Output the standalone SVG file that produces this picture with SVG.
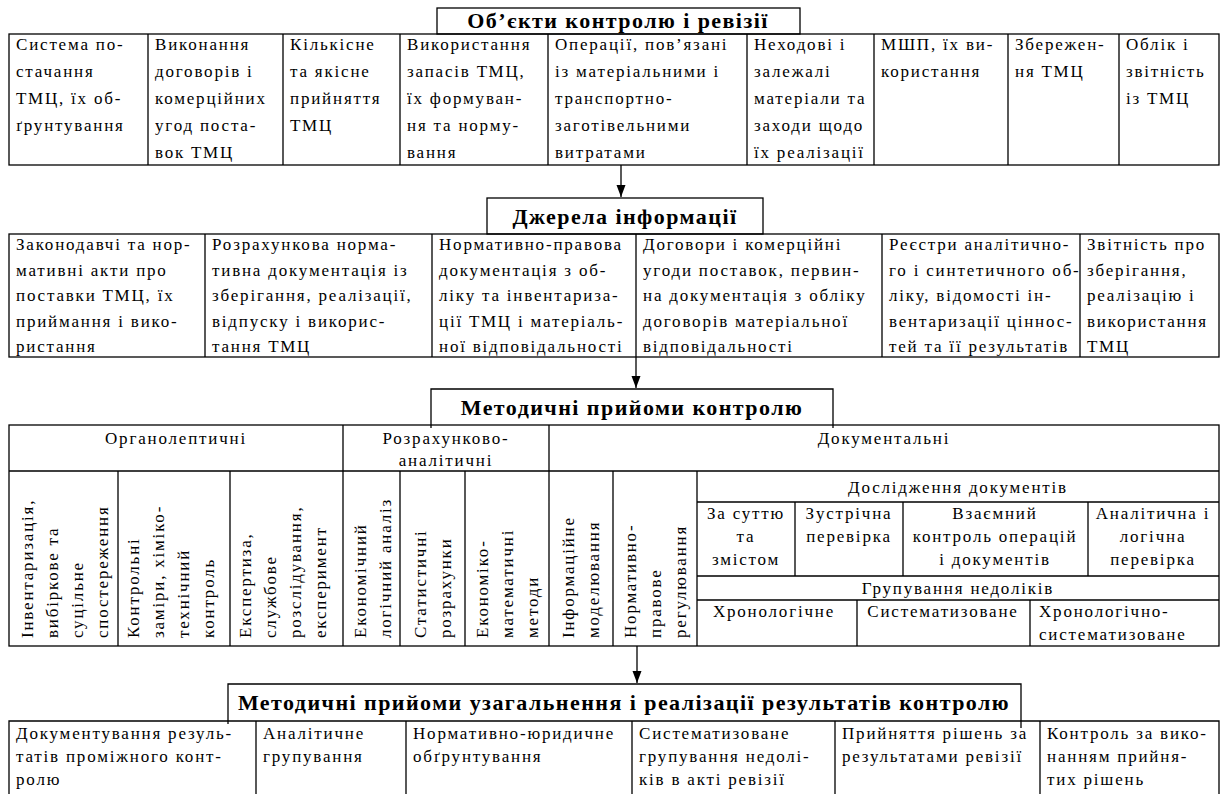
<svg xmlns="http://www.w3.org/2000/svg" width="1228" height="794" viewBox="0 0 1228 794">
<defs>
<style>
.t{font-family:"Liberation Serif","Times New Roman",serif;font-size:17px;letter-spacing:1.8px;fill:#000}
.h{font-family:"Liberation Serif","Times New Roman",serif;font-size:22px;font-weight:bold;letter-spacing:1.45px;fill:#000;text-anchor:middle}
.c{text-anchor:middle}
.b{fill:none;stroke:#000;stroke-width:1.3}
.l{stroke:#000;stroke-width:1.3;fill:none}
</style>
<marker id="ah" markerUnits="userSpaceOnUse" markerWidth="13" markerHeight="10" refX="12" refY="4.5" orient="auto" viewBox="0 0 13 9">
<path d="M0,0 L12,4.5 L0,9 Z" fill="#000"/>
</marker>
</defs>
<rect width="1228" height="794" fill="#fff"/>

<!-- Section 1 -->
<g id="objects-title">
<rect class="b" x="437" y="8" width="363" height="26"/>
<text class="h" x="618" y="28">Об’єкти контролю і ревізії</text>
</g>
<g id="objects-table">
<rect class="b" x="9" y="34" width="1210" height="131"/>
<path class="l" d="M148,34V165M283,34V165M400,34V165M548,34V165M747,34V165M874,34V165M1008,34V165M1119,34V165"/>
<text class="t" y="50"><tspan x="16">Система по-</tspan><tspan x="16" dy="27">стачання</tspan><tspan x="16" dy="27">ТМЦ, їх об-</tspan><tspan x="16" dy="27">ґрунтування</tspan></text>
<text class="t" y="50"><tspan x="155">Виконання</tspan><tspan x="155" dy="27">договорів і</tspan><tspan x="155" dy="27">комерційних</tspan><tspan x="155" dy="27">угод поста-</tspan><tspan x="155" dy="27">вок ТМЦ</tspan></text>
<text class="t" y="50"><tspan x="290">Кількісне</tspan><tspan x="290" dy="27">та якісне</tspan><tspan x="290" dy="27">прийняття</tspan><tspan x="290" dy="27">ТМЦ</tspan></text>
<text class="t" y="50"><tspan x="407">Використання</tspan><tspan x="407" dy="27">запасів ТМЦ,</tspan><tspan x="407" dy="27">їх формуван-</tspan><tspan x="407" dy="27">ня та норму-</tspan><tspan x="407" dy="27">вання</tspan></text>
<text class="t" y="50"><tspan x="555">Операції, пов’язані</tspan><tspan x="555" dy="27">із матеріальними і</tspan><tspan x="555" dy="27">транспортно-</tspan><tspan x="555" dy="27">заготівельними</tspan><tspan x="555" dy="27">витратами</tspan></text>
<text class="t" y="50"><tspan x="754">Неходові і</tspan><tspan x="754" dy="27">залежалі</tspan><tspan x="754" dy="27">матеріали та</tspan><tspan x="754" dy="27">заходи щодо</tspan><tspan x="754" dy="27">їх реалізації</tspan></text>
<text class="t" y="50"><tspan x="881">МШП, їх ви-</tspan><tspan x="881" dy="27">користання</tspan></text>
<text class="t" y="50"><tspan x="1015">Збережен-</tspan><tspan x="1015" dy="27">ня ТМЦ</tspan></text>
<text class="t" y="50"><tspan x="1126">Облік і</tspan><tspan x="1126" dy="27">звітність</tspan><tspan x="1126" dy="27">із ТМЦ</tspan></text>
</g>

<!-- Section 2 -->
<g id="sources-title">
<rect class="b" x="487" y="198" width="276" height="36"/>
<text class="h" x="625" y="224">Джерела інформації</text>
</g>
<g id="sources-table">
<rect class="b" x="9" y="234" width="1210" height="123"/>
<path class="l" d="M205,234V357M432,234V357M636,234V357M882,234V357M1080,234V357"/>
<text class="t" y="250"><tspan x="16">Законодавчі та нор-</tspan><tspan x="16" dy="25.5">мативні акти про</tspan><tspan x="16" dy="25.5">поставки ТМЦ, їх</tspan><tspan x="16" dy="25.5">приймання і вико-</tspan><tspan x="16" dy="25.5">ристання</tspan></text>
<text class="t" y="250"><tspan x="212">Розрахункова норма-</tspan><tspan x="212" dy="25.5">тивна документація із</tspan><tspan x="212" dy="25.5">зберігання, реалізації,</tspan><tspan x="212" dy="25.5">відпуску і викорис-</tspan><tspan x="212" dy="25.5">тання ТМЦ</tspan></text>
<text class="t" y="250"><tspan x="439">Нормативно-правова</tspan><tspan x="439" dy="25.5">документація з об-</tspan><tspan x="439" dy="25.5">ліку та інвентариза-</tspan><tspan x="439" dy="25.5">ції ТМЦ і матеріаль-</tspan><tspan x="439" dy="25.5">ної відповідальності</tspan></text>
<text class="t" y="250"><tspan x="643">Договори і комерційні</tspan><tspan x="643" dy="25.5">угоди поставок, первин-</tspan><tspan x="643" dy="25.5">на документація з обліку</tspan><tspan x="643" dy="25.5">договорів матеріальної</tspan><tspan x="643" dy="25.5">відповідальності</tspan></text>
<text class="t" y="250"><tspan x="889">Реєстри аналітично-</tspan><tspan x="889" dy="25.5">го і синтетичного об-</tspan><tspan x="889" dy="25.5">ліку, відомості ін-</tspan><tspan x="889" dy="25.5">вентаризації ціннос-</tspan><tspan x="889" dy="25.5">тей та її результатів</tspan></text>
<text class="t" y="250"><tspan x="1087">Звітність про</tspan><tspan x="1087" dy="25.5">зберігання,</tspan><tspan x="1087" dy="25.5">реалізацію і</tspan><tspan x="1087" dy="25.5">використання</tspan><tspan x="1087" dy="25.5">ТМЦ</tspan></text>
</g>

<!-- Section 3 -->
<g id="methods-title">
<path class="l" d="M431,428V389H833V428"/>
<text class="h" x="632" y="415">Методичні прийоми контролю</text>
</g>
<g id="methods-table">
<rect class="b" x="9" y="425" width="1210" height="221"/>
<path class="l" d="M9,471H1219M343,425V646M549,425V646M118,471V646M230,471V646M400,471V646M465,471V646M613,471V646M697,471V646M697,502H1219M795,502V576M903,502V576M1088,502V576M697,576H1219M697,600H1219M857,600V646M1030,600V646"/>
<text class="t c" x="176" y="444">Органолептичні</text>
<text class="t c" y="444"><tspan x="446">Розрахунково-</tspan><tspan x="446" dy="22">аналітичні</tspan></text>
<text class="t c" x="884" y="444">Документальні</text>
<text class="t" transform="translate(33,638) rotate(-90)"><tspan x="0" y="0">Інвентаризація,</tspan><tspan x="0" dy="25">вибіркове та</tspan><tspan x="0" dy="25">суцільне</tspan><tspan x="0" dy="25">спостереження</tspan></text>
<text class="t" transform="translate(139,638) rotate(-90)"><tspan x="0" y="0">Контрольні</tspan><tspan x="0" dy="25">заміри, хіміко-</tspan><tspan x="0" dy="25">технічний</tspan><tspan x="0" dy="25">контроль</tspan></text>
<text class="t" transform="translate(251,638) rotate(-90)"><tspan x="0" y="0">Експертиза,</tspan><tspan x="0" dy="25">службове</tspan><tspan x="0" dy="25">розслідування,</tspan><tspan x="0" dy="25">експеримент</tspan></text>
<text class="t" transform="translate(366,638) rotate(-90)"><tspan x="0" y="0">Економічний</tspan><tspan x="0" dy="25">логічний аналіз</tspan></text>
<text class="t" transform="translate(426,638) rotate(-90)"><tspan x="0" y="0">Статистичні</tspan><tspan x="0" dy="25">розрахунки</tspan></text>
<text class="t" transform="translate(488,638) rotate(-90)"><tspan x="0" y="0">Економіко-</tspan><tspan x="0" dy="25">математичні</tspan><tspan x="0" dy="25">методи</tspan></text>
<text class="t" transform="translate(574,638) rotate(-90)"><tspan x="0" y="0">Інформаційне</tspan><tspan x="0" dy="25">моделювання</tspan></text>
<text class="t" transform="translate(636,638) rotate(-90)"><tspan x="0" y="0">Нормативно-</tspan><tspan x="0" dy="25">правове</tspan><tspan x="0" dy="25">регулювання</tspan></text>
<text class="t c" x="958" y="493">Дослідження документів</text>
<text class="t c" y="519"><tspan x="746">За суттю</tspan><tspan x="746" dy="23">та</tspan><tspan x="746" dy="23">змістом</tspan></text>
<text class="t c" y="519"><tspan x="849">Зустрічна</tspan><tspan x="849" dy="23">перевірка</tspan></text>
<text class="t c" y="519"><tspan x="995">Взаємний</tspan><tspan x="995" dy="23">контроль операцій</tspan><tspan x="995" dy="23">і документів</tspan></text>
<text class="t c" y="519"><tspan x="1153">Аналітична і</tspan><tspan x="1153" dy="23">логічна</tspan><tspan x="1153" dy="23">перевірка</tspan></text>
<text class="t c" x="958" y="594">Групування недоліків</text>
<text class="t c" x="774" y="617">Хронологічне</text>
<text class="t c" x="943" y="617">Систематизоване</text>
<text class="t" y="617"><tspan x="1039">Хронологічно-</tspan><tspan x="1039" dy="23">систематизоване</tspan></text>
</g>

<!-- Section 4 -->
<g id="results-title">
<path class="l" d="M228,724V684H1021V728"/>
<text class="h" x="624" y="710">Методичні прийоми узагальнення і реалізації результатів контролю</text>
</g>
<g id="results-table">
<path class="l" d="M9,800V721H1219V800M256,721V800M406,721V800M632,721V800M835,721V800M1040,721V800"/>
<text class="t" y="739"><tspan x="16">Документування резуль-</tspan><tspan x="16" dy="23">татів проміжного конт-</tspan><tspan x="16" dy="23">ролю</tspan></text>
<text class="t" y="739"><tspan x="263">Аналітичне</tspan><tspan x="263" dy="23">групування</tspan></text>
<text class="t" y="739"><tspan x="413">Нормативно-юридичне</tspan><tspan x="413" dy="23">обґрунтування</tspan></text>
<text class="t" y="739"><tspan x="639">Систематизоване</tspan><tspan x="639" dy="23">групування недолі-</tspan><tspan x="639" dy="23">ків в акті ревізії</tspan></text>
<text class="t" y="739"><tspan x="842">Прийняття рішень за</tspan><tspan x="842" dy="23">результатами ревізії</tspan></text>
<text class="t" y="739"><tspan x="1047">Контроль за вико-</tspan><tspan x="1047" dy="23">нанням прийня-</tspan><tspan x="1047" dy="23">тих рішень</tspan></text>
</g>

<g id="connectors">
<path class="l" d="M621,165V197" marker-end="url(#ah)"/>
<path class="l" d="M636,357V388" marker-end="url(#ah)"/>
<path class="l" d="M637,646V683" marker-end="url(#ah)"/>
</g>
</svg>
